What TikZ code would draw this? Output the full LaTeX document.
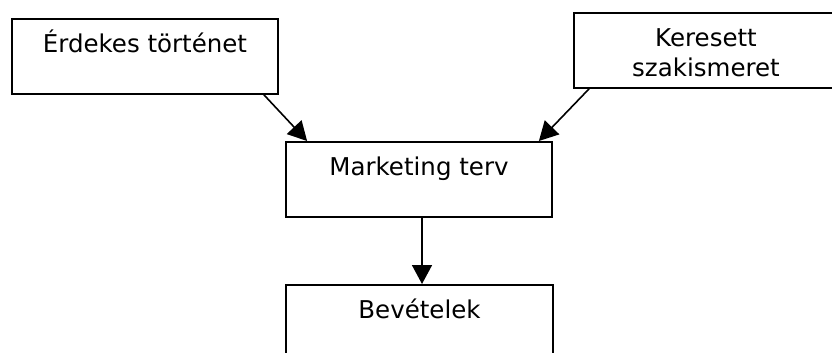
\documentclass[tikz,border=0pt]{standalone}
\usepackage{fontspec}
\setmainfont{DejaVu Sans}
\usepackage{tikz}
\usetikzlibrary{arrows.meta}

\begin{document}
\begin{tikzpicture}[x=1pt,y=-1pt,
    box/.style={draw,line width=1.8pt,inner sep=0pt,anchor=north,align=center,
      minimum height=75pt,text height=34pt,text depth=41pt,
      font=\fontsize{24.5}{30}\selectfont},
    link/.style={line width=1.6pt,-{Triangle[length=19pt,width=20pt]}}]
    \useasboundingbox (0,0) rectangle (832,353);
    \clip (0,0) rectangle (832,353);
    \node[box,minimum width=266pt] (story) at (145,18) {Érdekes történet};
    \node[box,minimum width=264pt,text height=64pt,text depth=11pt] (skill) at (706,12) {Keresett\\szakismeret};
    \node[box,minimum width=266pt] (plan) at (419,141) {Marketing terv};
    \node[box,minimum width=267pt] (income) at (419.5,284) {Bevételek};
    \draw[link] ([xshift=-15pt]story.south east) -- ([xshift=22pt]plan.north west);
    \draw[link] ([xshift=16pt]skill.south west) -- ([xshift=-14pt]plan.north east);
    \draw[link] (plan.south -| 422,0) -- (income.north -| 422,0);
\end{tikzpicture}
\end{document}
